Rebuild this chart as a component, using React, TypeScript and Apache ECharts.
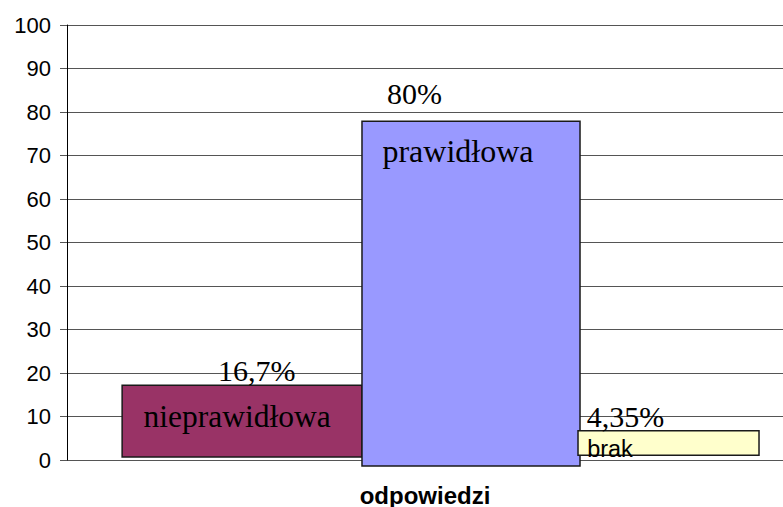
import React, { useEffect, useRef } from "react";
import * as echarts from "echarts";

// ---- data ----
const categoryLabels = ["odpowiedzi"];
const answerNames = ["nieprawidłowa", "prawidłowa", "brak"];
const barLows = [0.7, -1.4, 1.1];
const barHighs = [17.2, 77.9, 6.7];
const percentLabels = ["16,7%", "80%", "4,35%"];
const yTicks = [0, 10, 20, 30, 40, 50, 60, 70, 80, 90, 100];

// ---- layout / style (not data) ----
const barColors = ["#993366", "#9999FF", "#FFFFCC"];
// bar horizontal extents as fraction of category band width, relative to band centre
const barSpans: [number, number][] = [
  [-0.423, -0.088],
  [-0.088, 0.2165],
  [0.2137, 0.4665],
];
// label offsets (px) relative to bar left / top
const pctOffsets: [number, number][] = [
  [134.5, -15],
  [52.5, -28],
  [47.5, -14.5],
];
const nameOffsets: [number, number][] = [
  [115, 31],
  [96, 30],
  [32, 18],
];
const nameFonts = [
  { family: "Liberation Serif", size: 31.5 },
  { family: "Liberation Serif", size: 32 },
  { family: "Liberation Sans", size: 23.5 },
];

export default function App() {
  const ref = useRef<HTMLDivElement>(null);
  useEffect(() => {
    if (!ref.current) return;
    const chart = echarts.init(ref.current, undefined, { renderer: "svg" });
    const data = answerNames.map((n, i) => [0, barLows[i], barHighs[i], i]);
    chart.setOption({
      animation: false,
      backgroundColor: "#ffffff",
      grid: { left: 67, right: 0, top: 25, bottom: 47, containLabel: false },
      xAxis: {
        type: "category",
        data: categoryLabels,
        axisLine: { show: false },
        axisTick: { show: false },
        axisLabel: {
          color: "#000",
          fontFamily: "Liberation Sans",
          fontWeight: "bold",
          fontSize: 24,
          margin: 23,
        },
        splitLine: { show: false },
      },
      yAxis: {
        type: "value",
        min: yTicks[0],
        max: yTicks[yTicks.length - 1],
        interval: yTicks[1] - yTicks[0],
        axisLine: { show: true, lineStyle: { color: "#000", width: 1 } },
        axisTick: { show: true, length: 7, lineStyle: { color: "#555" } },
        axisLabel: {
          color: "#000",
          fontFamily: "Liberation Sans",
          fontSize: 22,
          margin: 16,
        },
        splitLine: { show: true, lineStyle: { color: "#555", width: 1 } },
      },
      series: [
        {
          type: "custom",
          clip: false,
          data,
          renderItem: (params: any, api: any) => {
            const idx = api.value(3);
            const low = api.value(1);
            const high = api.value(2);
            const pLow = api.coord([0, low]);
            const pHigh = api.coord([0, high]);
            const bandW = api.size([1, 0])[0];
            const x0 = pLow[0] + barSpans[idx][0] * bandW;
            const x1 = pLow[0] + barSpans[idx][1] * bandW;
            const top = pHigh[1];
            const bottom = pLow[1];
            return {
              type: "group",
              children: [
                {
                  type: "rect",
                  shape: { x: x0, y: top, width: x1 - x0, height: bottom - top },
                  style: { fill: barColors[idx], stroke: "#1a1a1a", lineWidth: 1.5 },
                },
                {
                  type: "text",
                  x: x0 + pctOffsets[idx][0],
                  y: top + pctOffsets[idx][1],
                  style: {
                    text: percentLabels[idx],
                    fill: "#000",
                    font: `30px "Liberation Serif"`,
                    align: "center",
                    verticalAlign: "middle",
                  },
                },
                {
                  type: "text",
                  x: x0 + nameOffsets[idx][0],
                  y: top + nameOffsets[idx][1],
                  style: {
                    text: answerNames[idx],
                    fill: "#000",
                    font: `${nameFonts[idx].size}px "${nameFonts[idx].family}"`,
                    align: "center",
                    verticalAlign: "middle",
                  },
                },
              ],
            };
          },
        },
      ],
    });
    return () => chart.dispose();
  }, []);
  return (
    <div
      ref={ref}
      style={{ position: "fixed", left: 0, top: 0, width: 783, height: 507 }}
    />
  );
}
